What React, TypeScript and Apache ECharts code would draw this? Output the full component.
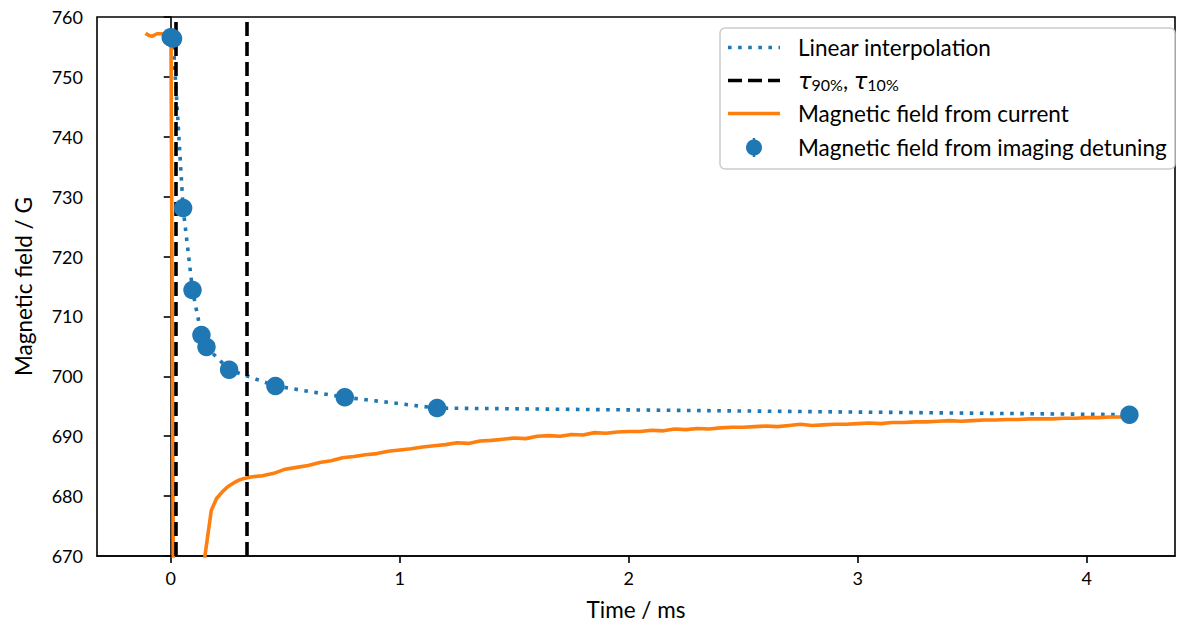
import React, { useEffect, useRef } from "react";
import * as echarts from "echarts";

// Tick positions on the time axis (ms)
const xTicks = [0, 1, 2, 3, 4];

// Field deduced from the imaging detuning
const detuningTimes = [0.0, 0.01, 0.054, 0.095, 0.134, 0.156, 0.255, 0.457, 0.76, 1.163, 4.186];
const detuningField = [756.6, 756.4, 728.1, 714.4, 706.9, 704.9, 701.1, 698.4, 696.5, 694.7, 693.6];

// Field computed from the coil current
const currentTimes = [
  -0.11, -0.095, -0.08, -0.06, -0.04, -0.02, 0.001, 0.013, 0.12, 0.15, 0.177, 0.2, 0.225, 0.25, 0.275, 0.3,
  0.325, 0.35, 0.4, 0.45, 0.5, 0.55, 0.6, 0.65, 0.7, 0.75, 0.8, 0.85, 0.9, 0.95, 1.0, 1.05, 1.1, 1.15, 1.2,
  1.25, 1.3, 1.35, 1.4, 1.45, 1.5, 1.55, 1.6, 1.65, 1.7, 1.75, 1.8, 1.85, 1.9, 1.95, 2.0, 2.05, 2.1, 2.15,
  2.2, 2.25, 2.3, 2.35, 2.4, 2.45, 2.5, 2.55, 2.6, 2.65, 2.7, 2.75, 2.8, 2.85, 2.9, 2.95, 3.0, 3.05, 3.1,
  3.15, 3.2, 3.25, 3.3, 3.35, 3.4, 3.45, 3.5, 3.55, 3.6, 3.65, 3.7, 3.75, 3.8, 3.85, 3.9, 3.95, 4.0, 4.05,
  4.1, 4.15, 4.18,
];
const currentField = [
  757.3, 756.9, 756.8, 757.2, 757.2, 757.0, 756.8, 655, 660, 670.2, 677.6, 679.6, 680.7, 681.6, 682.2, 682.7,
  683.0, 683.2, 683.4, 683.8, 684.5, 684.8, 685.1, 685.6, 685.9, 686.4, 686.6, 686.9, 687.1, 687.5, 687.7,
  687.9, 688.2, 688.4, 688.6, 688.9, 688.8, 689.2, 689.3, 689.5, 689.7, 689.6, 690.0, 690.1, 690.0, 690.3,
  690.2, 690.6, 690.5, 690.7, 690.8, 690.8, 691.0, 690.9, 691.2, 691.1, 691.3, 691.2, 691.4, 691.5, 691.5,
  691.6, 691.7, 691.6, 691.8, 692.0, 691.8, 691.9, 692.0, 692.0, 692.1, 692.2, 692.1, 692.3, 692.3, 692.4,
  692.4, 692.5, 692.6, 692.5, 692.6, 692.7, 692.7, 692.8, 692.8, 692.9, 692.9, 692.9, 693.0, 693.0, 693.1,
  693.1, 693.2, 693.2, 693.3,
];

// Rise-time markers tau_90% and tau_10% (ms)
const tauTimes = [0.022, 0.332];

const legendLabels = [
  "Linear interpolation",
  "{t|τ}{s|90%}{n|, }{t|τ}{s|10%}",
  "Magnetic field from current",
  "Magnetic field from imaging detuning",
];

const BLUE = "#1f77b4";
const ORANGE = "#ff7f0e";
const FONT = "Lato";
const TEXT_SIZE = 22.5;
const TICK_SIZE = 18;

export default function App() {
  const ref = useRef<HTMLDivElement>(null);

  useEffect(() => {
    if (!ref.current) return;
    const chart = echarts.init(ref.current, null, { renderer: "svg" });

    const detuning = detuningTimes.map((t, i) => [t, detuningField[i]]);
    const current = currentTimes.map((t, i) => [t, currentField[i]]);

    const lx1 = 728;
    const lx2 = 780;
    const tx = 798;
    const rows = [47.5, 80.5, 113.5, 147.5];

    const legend: any[] = [
      {
        type: "rect",
        shape: { x: 720, y: 28, width: 455, height: 141, r: 5 },
        style: { fill: "rgba(255,255,255,0.85)", stroke: "#cccccc", lineWidth: 1.5 },
        z: 100,
      },
      {
        type: "line",
        shape: { x1: lx1, y1: rows[0], x2: lx2, y2: rows[0] },
        style: { stroke: BLUE, lineWidth: 3.6, lineDash: [3.6, 6.5] },
        z: 101,
      },
      {
        type: "line",
        shape: { x1: lx1, y1: rows[1], x2: lx2, y2: rows[1] },
        style: { stroke: "#000", lineWidth: 3.6, lineDash: [14, 6] },
        z: 101,
      },
      {
        type: "line",
        shape: { x1: lx1, y1: rows[2], x2: lx2, y2: rows[2] },
        style: { stroke: ORANGE, lineWidth: 3.6 },
        z: 101,
      },
      {
        type: "line",
        shape: { x1: (lx1 + lx2) / 2, y1: rows[3] - 9.5, x2: (lx1 + lx2) / 2, y2: rows[3] + 9.5 },
        style: { stroke: BLUE, lineWidth: 2.5 },
        z: 101,
      },
      {
        type: "circle",
        shape: { cx: (lx1 + lx2) / 2, cy: rows[3], r: 8 },
        style: { fill: BLUE },
        z: 102,
      },
    ];
    legendLabels.forEach((label, i) => {
      legend.push({
        type: "text",
        x: tx,
        y: rows[i],
        style: {
          text: label,
          fill: "#000",
          fontFamily: FONT,
          fontSize: TEXT_SIZE,
          verticalAlign: "middle",
          align: "left",
          rich: {
            t: { fontSize: TEXT_SIZE, fontStyle: "italic", fontFamily: "DejaVu Sans", fill: "#000" },
            s: { fontSize: 16, fontFamily: FONT, padding: [7, 0, 0, 0], fill: "#000" },
            n: { fontSize: TEXT_SIZE, fontFamily: FONT, fill: "#000" },
          },
        },
        z: 103,
      });
    });

    chart.setOption({
      animation: false,
      backgroundColor: "#fff",
      textStyle: { fontFamily: FONT },
      grid: {
        left: 97,
        right: 7,
        top: 17,
        bottom: 71,
        show: true,
        borderColor: "#000",
        borderWidth: 1.6,
        backgroundColor: "transparent",
      },
      xAxis: {
        type: "value",
        min: -0.322,
        max: 4.385,
        name: "Time / ms",
        nameLocation: "middle",
        nameGap: 42,
        nameTextStyle: { fontSize: TEXT_SIZE, color: "#000", fontFamily: FONT },
        axisLine: { show: true, onZero: false, lineStyle: { color: "#000", width: 1.6 } },
        axisTick: { show: true, length: 7, customValues: xTicks, lineStyle: { color: "#000", width: 1.6 } },
        axisLabel: { customValues: xTicks, fontSize: TICK_SIZE, color: "#000", margin: 13, fontFamily: FONT },
        splitLine: { show: false },
      },
      yAxis: {
        type: "value",
        min: 670,
        max: 760,
        interval: 10,
        name: "Magnetic field / G",
        nameLocation: "middle",
        nameGap: 62,
        nameTextStyle: { fontSize: TEXT_SIZE, color: "#000", fontFamily: FONT },
        axisLine: { show: true, lineStyle: { color: "#000", width: 1.6 } },
        axisTick: { show: true, length: 7, lineStyle: { color: "#000", width: 1.6 } },
        axisLabel: { fontSize: TICK_SIZE, color: "#000", margin: 14, fontFamily: FONT },
        splitLine: { show: false },
      },
      series: [
        {
          name: "Linear interpolation",
          type: "line",
          data: detuning,
          showSymbol: false,
          symbol: "none",
          lineStyle: { color: BLUE, width: 3.6, type: [3.6, 6.5], cap: "butt" },
          z: 2,
          silent: true,
        },
        {
          name: "tau",
          type: "line",
          data: [],
          z: 3,
          silent: true,
          markLine: {
            silent: true,
            symbol: ["none", "none"],
            label: { show: false },
            lineStyle: { color: "#000", width: 3.6, type: [14, 6] },
            data: tauTimes.map((t) => ({ xAxis: t })),
          },
        },
        {
          name: "Magnetic field from current",
          type: "line",
          data: current,
          showSymbol: false,
          symbol: "none",
          clip: true,
          lineStyle: { color: ORANGE, width: 3.6, join: "round" },
          z: 4,
          silent: true,
        },
        {
          name: "Magnetic field from imaging detuning",
          type: "scatter",
          data: detuning,
          symbol: "circle",
          symbolSize: 18.5,
          itemStyle: { color: BLUE, opacity: 1 },
          z: 5,
          silent: true,
        },
      ],
      graphic: legend,
    });

    return () => chart.dispose();
  }, []);

  return (
    <div
      ref={ref}
      style={{ position: "fixed", left: 0, top: 0, width: 1182, height: 627, background: "#fff" }}
    />
  );
}
